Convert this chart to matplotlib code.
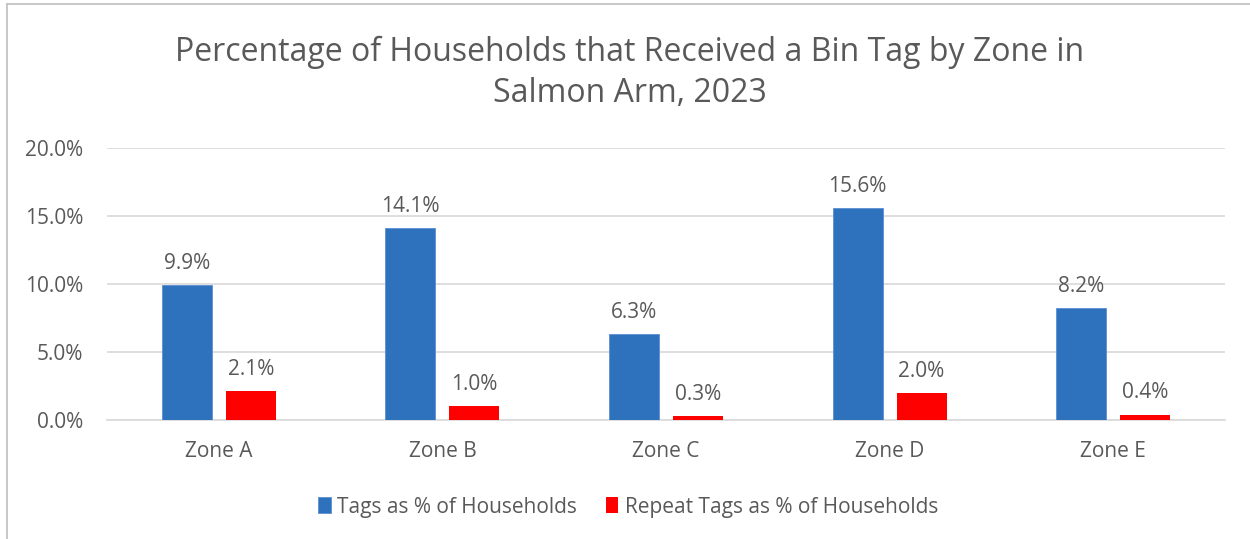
import matplotlib
matplotlib.use("Agg")
import matplotlib.pyplot as plt
import matplotlib.ticker as mticker
from matplotlib.lines import Line2D
import numpy as np

plt.rcParams["font.family"] = ["Open Sans", "DejaVu Sans"]

ZONES = ["Zone A", "Zone B", "Zone C", "Zone D", "Zone E"]
TAGS = [9.9, 14.1, 6.3, 15.6, 8.2]
REPEAT = [2.1, 1.0, 0.3, 2.0, 0.4]
SERIES = ["Tags as % of Households", "Repeat Tags as % of Households"]
TITLE = "Percentage of Households that Received a Bin Tag by Zone in\nSalmon Arm, 2023"

TXT = "#595959"
BLUE = "#2E72BE"
RED = "#FF0000"

fig = plt.figure(figsize=(12.5, 5.39), dpi=100)
ax = fig.add_axes([107 / 1250, 1 - 420 / 539, 1118 / 1250, 272 / 539])

x = np.arange(len(ZONES))
w = 0.224
off = 0.143
b1 = ax.bar(x - off, TAGS, w, color=BLUE, edgecolor="#5B8FD0", linewidth=0.6, label=SERIES[0], zorder=3)
b2 = ax.bar(x + off, REPEAT, w, color=RED, label=SERIES[1], zorder=3)

for bars, vals in ((b1, TAGS), (b2, REPEAT)):
    for r, v in zip(bars, vals):
        ax.annotate(f"{v:.1f}%", (r.get_x() + r.get_width() / 2, v), xytext=(0, 8),
                    textcoords="offset points", ha="center", va="bottom",
                    fontsize=15, color=TXT)

ax.set_xlim(-0.5, len(ZONES) - 0.5)
ax.set_ylim(0, 20)
ax.yaxis.set_major_locator(mticker.MultipleLocator(5))
ax.yaxis.set_major_formatter(mticker.FuncFormatter(lambda v, p: f"{v:.1f}%"))
ax.set_xticks(x)
ax.set_xticklabels(ZONES)
ax.tick_params(axis="both", length=0, labelsize=15, labelcolor=TXT)
ax.tick_params(axis="x", pad=15)
ax.tick_params(axis="y", pad=17)
ax.grid(axis="y", color="#D9D9D9", linewidth=1.2, zorder=0)
for s in ("top", "right", "left"):
    ax.spines[s].set_visible(False)
ax.spines["bottom"].set_color("#D9D9D9")
ax.spines["bottom"].set_linewidth(1.2)

fig.text(630 / 1250, 1 - 73 / 539, TITLE, ha="center", va="center",
         fontsize=23, color=TXT, linespacing=1.35)

fig.legend(handles=[b1, b2], loc="center", bbox_to_anchor=(628 / 1250, 1 - 507 / 539),
           ncol=2, frameon=False, fontsize=15, labelcolor=TXT,
           handlelength=0.6, handleheight=0.8, handletextpad=0.3, columnspacing=1.4)

# chart border (left and top only visible)
fig.add_artist(Line2D([7 / 1250, 7 / 1250], [0, 1 - 4 / 539], transform=fig.transFigure,
                      color="#BFBFBF", linewidth=1.2))
fig.add_artist(Line2D([7 / 1250, 1], [1 - 4 / 539, 1 - 4 / 539], transform=fig.transFigure,
                      color="#BFBFBF", linewidth=1.2))

fig.savefig("out.png", dpi=100)
